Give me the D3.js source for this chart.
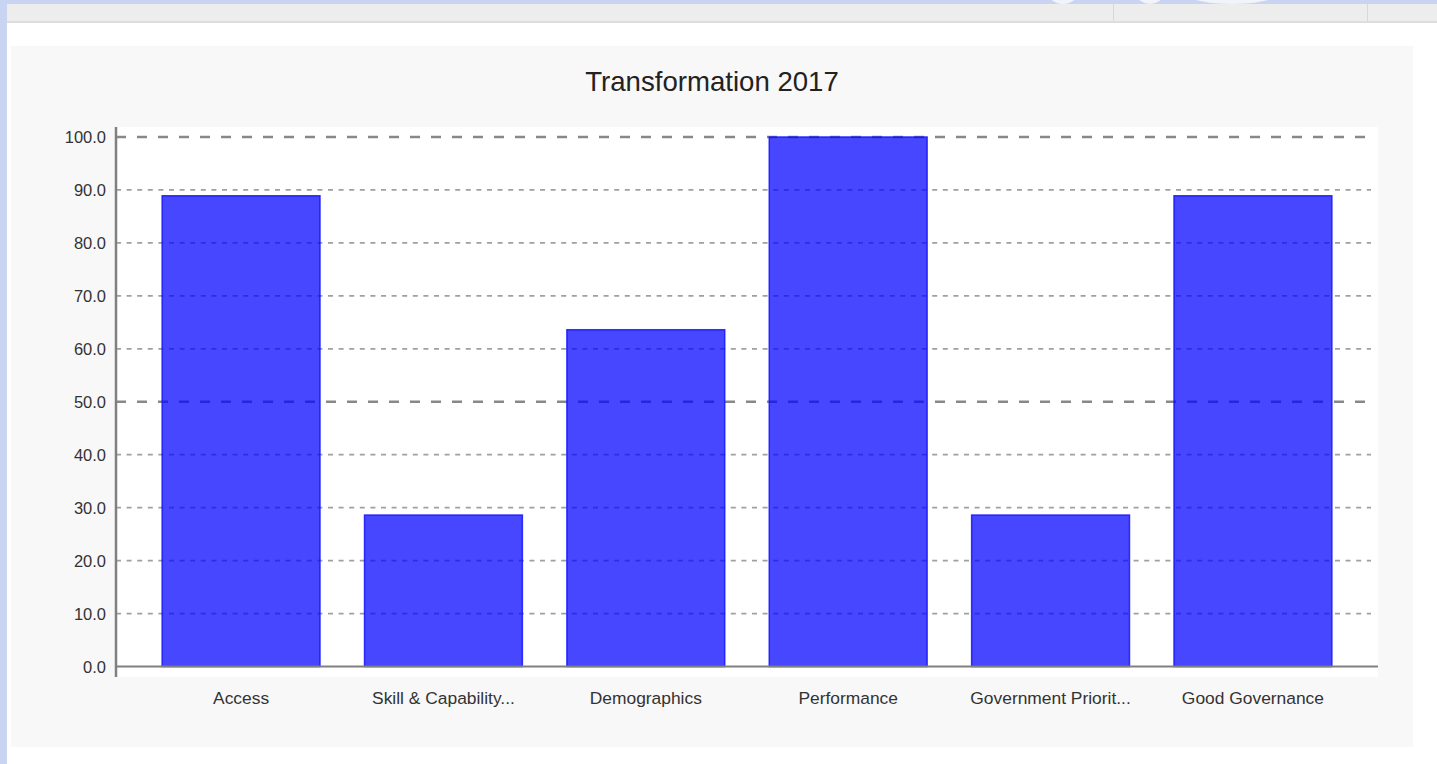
<!DOCTYPE html>
<html>
<head>
<meta charset="utf-8">
<script src="https://cdn.jsdelivr.net/npm/d3@7"></script>
<style>
  html, body { margin: 0; padding: 0; background: #c9d4f2; }
  svg { display: block; font-family: "Liberation Sans", Arial, sans-serif; }
</style>
</head>
<body>
<svg id="chart"></svg>
<script>
// данные графика
const categories = ["Access", "Skill & Capability...", "Demographics", "Performance", "Government Priorit...", "Good Governance"];
const values = [88.9, 28.6, 63.6, 100, 28.6, 88.9];
const yTicks = [0, 10, 20, 30, 40, 50, 60, 70, 80, 90, 100];
const majorTicks = [50, 100];
const title = "Transformation 2017";

const svgWidth = 1437, svgHeight = 764;
const plot = { left: 116, right: 1378, top: 127, bottom: 677 };

let svg = d3.select("#chart").attr("width", svgWidth).attr("height", svgHeight);

// фон страницы и шапка
svg.append("rect").attr("x", 0).attr("y", 0).attr("width", svgWidth).attr("height", svgHeight).attr("fill", "#c9d4f2");
svg.append("rect").attr("x", 7).attr("y", 4).attr("width", svgWidth - 7).attr("height", 18).attr("fill", "#ededed");
svg.append("rect").attr("x", 7).attr("y", 21).attr("width", svgWidth - 7).attr("height", 2).attr("fill", "#dddddd");
[1113, 1367].forEach(function (x) {
    svg.append("rect").attr("x", x).attr("y", 4).attr("width", 1).attr("height", 17).attr("fill", "#d8d8d8");
});
// белые дуги фона вверху справа
[[1063, 28], [1150, 26], [1232, 90]].forEach(function (p) {
    svg.append("ellipse").attr("cx", p[0]).attr("cy", -6).attr("rx", p[1] / 2).attr("ry", 10)
        .attr("fill", "#f2f4fb");
});
svg.append("rect").attr("x", 7).attr("y", 4).attr("width", svgWidth - 7).attr("height", 17).attr("fill", "#ededed");
svg.append("rect").attr("x", 7).attr("y", 21).attr("width", svgWidth - 7).attr("height", 2).attr("fill", "#dddddd");
[1113, 1367].forEach(function (x) {
    svg.append("rect").attr("x", x).attr("y", 4).attr("width", 1).attr("height", 17).attr("fill", "#d8d8d8");
});
svg.append("rect").attr("x", 7).attr("y", 23).attr("width", svgWidth - 7).attr("height", svgHeight - 23).attr("fill", "#ffffff");

// панель графика
svg.append("rect").attr("x", 11).attr("y", 46).attr("width", 1402).attr("height", 701).attr("fill", "#f8f8f8");
svg.append("rect").attr("x", plot.left).attr("y", plot.top)
    .attr("width", plot.right - plot.left).attr("height", plot.bottom - plot.top).attr("fill", "#ffffff");

svg.append("text")
    .attr("x", 712).attr("y", 81)
    .attr("text-anchor", "middle").attr("dominant-baseline", "central")
    .attr("font-size", "27.6px").attr("fill", "#222")
    .text(title);

let x = d3.scaleBand()
    .domain(categories)
    .range([plot.left, plot.right])
    .paddingInner(0.22)
    .paddingOuter(0.228);

let y = d3.scaleLinear()
    .domain([0, 100])
    .range([666.5, 137]);

// сетка
svg.append("g").selectAll("line")
    .data(yTicks.filter(function (d) { return d > 0; }))
    .enter()
    .append("line")
    .attr("x1", plot.left).attr("x2", 1371)
    .attr("y1", function (d) { return y(d); })
    .attr("y2", function (d) { return y(d); })
    .attr("stroke", function (d) { return majorTicks.includes(d) ? "#888" : "#a0a0a0"; })
    .attr("stroke-width", function (d) { return majorTicks.includes(d) ? 2.5 : 1.7; })
    .attr("stroke-dasharray", function (d) { return majorTicks.includes(d) ? "10,11" : "5,5.6"; });

// столбцы
svg.append("g").selectAll("rect")
    .data(values)
    .enter()
    .append("rect")
    .attr("x", function (d, i) { return x(categories[i]); })
    .attr("y", function (d) { return y(d); })
    .attr("width", x.bandwidth())
    .attr("height", function (d) { return y(0) - y(d); })
    .attr("fill", "rgba(0,0,255,0.72)")
    .attr("stroke", "rgba(20,20,255,0.85)")
    .attr("stroke-width", 1.5);

// оси
svg.append("line")
    .attr("x1", plot.left).attr("x2", plot.right)
    .attr("y1", y(0)).attr("y2", y(0))
    .attr("stroke", "#808080").attr("stroke-width", 2);
svg.append("line")
    .attr("x1", plot.left).attr("x2", plot.left)
    .attr("y1", plot.top).attr("y2", plot.bottom)
    .attr("stroke", "#808080").attr("stroke-width", 2.5);

svg.append("g").selectAll("text")
    .data(yTicks)
    .enter()
    .append("text")
    .attr("x", 106)
    .attr("y", function (d) { return y(d); })
    .attr("text-anchor", "end").attr("dominant-baseline", "central")
    .attr("font-size", "16.5px").attr("fill", "#333")
    .text(d3.format(".1f"));

svg.append("g").selectAll("text")
    .data(categories)
    .enter()
    .append("text")
    .attr("x", function (d) { return x(d) + x.bandwidth() / 2; })
    .attr("y", 698)
    .attr("text-anchor", "middle").attr("dominant-baseline", "central")
    .attr("font-size", "17.4px").attr("fill", "#333")
    .text(function (d) { return d; });
</script>
</body>
</html>
